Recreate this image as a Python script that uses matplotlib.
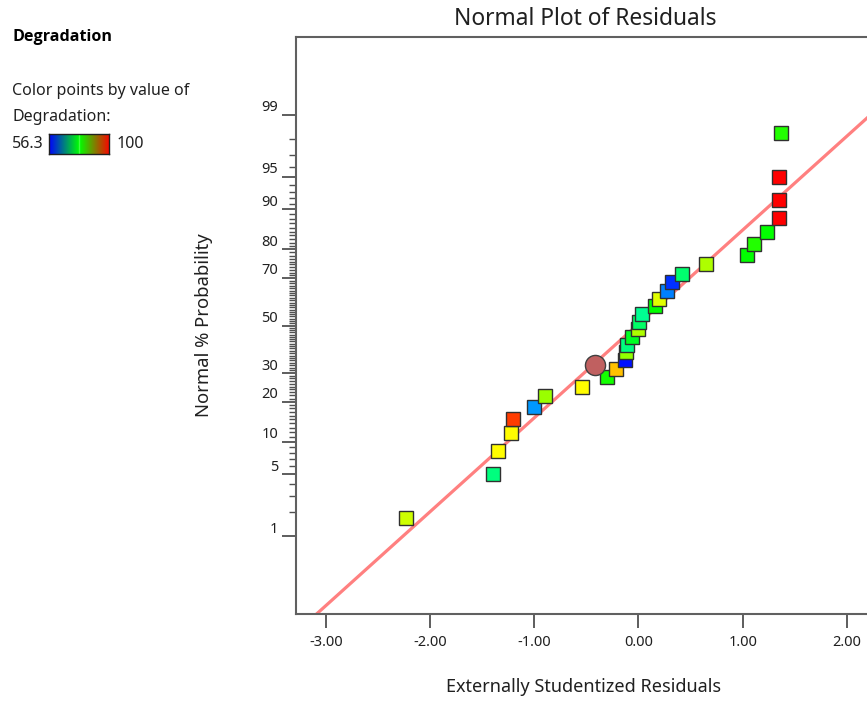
import matplotlib
matplotlib.use("Agg")
import matplotlib.pyplot as plt
import numpy as np
from statistics import NormalDist
from matplotlib.colors import LinearSegmentedColormap, ListedColormap, hsv_to_rgb
from matplotlib.transforms import ScaledTranslation

# externally studentized residuals, sorted, with the response value of each run
residuals = [-2.232, -1.392, -1.349, -1.223, -1.200, -1.003, -0.893, -0.537,
             -0.303, -0.217, -0.125, -0.118, -0.108, -0.063, 0.000, 0.010,
             0.033, 0.154, 0.196, 0.273, 0.319, 0.417, 0.648, 1.046,
             1.104, 1.232, 1.344, 1.344, 1.344, 1.367]
degradation = [86.9, 72.7, 89.1, 89.1, 97.3, 62.9, 84.7, 89.1,
               79.0, 91.7, 57.0, 84.3, 72.7, 76.7, 85.6, 73.8,
               72.0, 78.2, 87.8, 61.8, 58.4, 73.4, 85.6, 78.2,
               79.6, 78.2, 100.0, 100.0, 100.0, 79.6]
deg_min, deg_max = 56.3, 100

# highlighted point
selected_residual = -0.416
selected_prob = 33.2

# reference line (probit units vs residual)
line_slope = 1.037
line_intercept = 0.017

prob_ticks = [1, 5, 10, 20, 30, 50, 70, 80, 90, 95, 99]
minor_probs = [p for p in range(1, 100) if p not in prob_ticks]
x_ticks = [-3, -2, -1, 0, 1, 2]

plt.rcParams["font.family"] = ["Noto Sans", "DejaVu Sans"]
plt.rcParams["axes.unicode_minus"] = False

nd = NormalDist()
W, H = 867, 702
fig = plt.figure(figsize=(W / 100, H / 100), dpi=100)

ax_l, ax_r, ax_t, ax_b = 296, 873, 37, 614
ax = fig.add_axes([ax_l / W, 1 - ax_b / H, (ax_r - ax_l) / W, (ax_b - ax_t) / H])

n = len(residuals)
z = [nd.inv_cdf((i + 0.5) / n) for i in range(n)]

hues = np.linspace(240, 0, 256) / 360
hue_cmap = ListedColormap(hsv_to_rgb(np.stack([hues, np.ones(256), np.ones(256)], axis=1)))
norm = plt.Normalize(deg_min, deg_max)

xs = np.array([-4, 3])
ax.plot(xs, line_slope * xs + line_intercept, color="#ff8080", lw=2.3, zorder=2)

for xv, zv, dv in zip(residuals, z, degradation):
    ax.plot(xv, zv, "s", ms=10, mfc=hue_cmap(norm(dv)), mec="#303030", mew=1.0, zorder=3)

ax.plot(selected_residual, nd.inv_cdf(selected_prob / 100), "o", ms=14.5,
        mfc="#c06060", mec="#404040", mew=1.0, zorder=4)

ax.set_xlim(-3.285, 2.25)
ax.set_ylim(-3.185, 3.185)

ax.set_xticks(x_ticks)
ax.set_xticklabels([f"{v:.2f}" for v in x_ticks])
ax.set_yticks([nd.inv_cdf(p / 100) for p in prob_ticks])
ax.set_yticklabels([str(p) for p in prob_ticks])
ax.set_yticks([nd.inv_cdf(p / 100) for p in minor_probs], minor=True)

ax.tick_params(axis="both", which="major", direction="out", length=10,
               width=1.3, color="#505050", labelsize=10.5, labelcolor="#202020")
ax.tick_params(axis="x", pad=5)
ax.tick_params(axis="y", which="major", pad=3)
ax.tick_params(axis="y", which="minor", direction="out", length=5,
               width=1.0, color="#505050")

shift = ScaledTranslation(0, 9 / 100, fig.dpi_scale_trans)
for lab in ax.get_yticklabels():
    lab.set_transform(lab.get_transform() + shift)

for side in ["left", "top", "bottom"]:
    ax.spines[side].set_color("#606060")
    ax.spines[side].set_linewidth(1.5)
ax.spines["right"].set_visible(False)

fig.text(585 / W, 1 - 19 / H, "Normal Plot of Residuals", ha="center", va="center",
         fontsize=16.4, color="#202020")
fig.text(584 / W, 1 - 687 / H, "Externally Studentized Residuals", ha="center",
         va="center", fontsize=13, color="#202020")
fig.text(204 / W, 1 - 325 / H, "Normal % Probability", ha="center", va="center",
         rotation=90, fontsize=13.3, color="#202020")

# legend block on the left
fig.text(12 / W, 1 - 37 / H, "Degradation", ha="left", va="center",
         fontsize=11.6, fontweight="bold", color="black",
         family=["Open Sans", "DejaVu Sans"])
leg_fs = 11.5
fig.text(12 / W, 1 - 91 / H, "Color points by value of", ha="left", va="center",
         fontsize=leg_fs, color="#202020")
fig.text(12 / W, 1 - 117 / H, "Degradation:", ha="left", va="center",
         fontsize=leg_fs, color="#202020")
fig.text(12 / W, 1 - 144 / H, f"{deg_min}", ha="left", va="center",
         fontsize=leg_fs, color="#202020")
fig.text(117 / W, 1 - 144 / H, f"{deg_max:g}", ha="left", va="center",
         fontsize=leg_fs, color="#202020")

bar_cmap = LinearSegmentedColormap.from_list("deg", ["#0000ff", "#00ff00", "#ff0000"])
cax = fig.add_axes([49 / W, 1 - 154 / H, 60 / W, 20 / H])
cax.imshow(np.linspace(0, 1, 256)[None, :], aspect="auto", cmap=bar_cmap)
cax.axvline(127.5, color="#40ff40", lw=1)
cax.set_xticks([])
cax.set_yticks([])
for s in cax.spines.values():
    s.set_color("#202020")
    s.set_linewidth(1)

fig.savefig("out.png", dpi=100)
